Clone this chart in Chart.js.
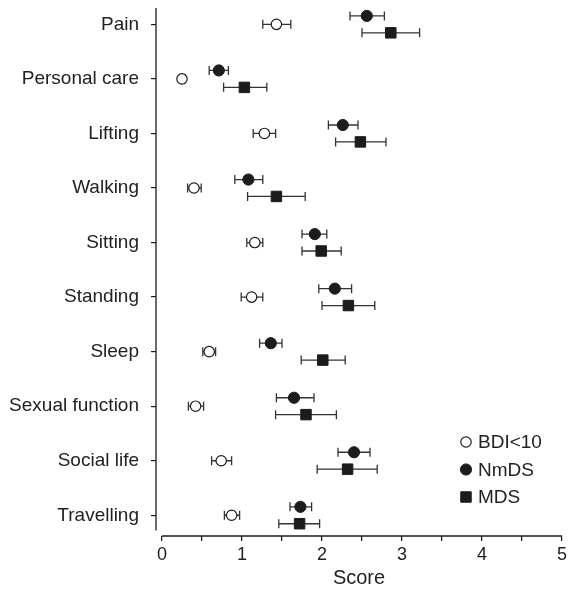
<!DOCTYPE html>
<html>
<head>
<meta charset="utf-8">
<script src="https://cdn.jsdelivr.net/npm/chart.js@4.4.1/dist/chart.umd.min.js"></script>
<style>
  html, body { margin: 0; padding: 0; background: #fff; }
  #wrap { width: 568px; height: 598px; }
</style>
</head>
<body>
<div id="wrap"><canvas id="chart" width="568" height="598"></canvas></div>
<script>
const categories = ['Pain', 'Personal care', 'Lifting', 'Walking', 'Sitting',
                    'Standing', 'Sleep', 'Sexual function', 'Social life', 'Travelling'];

// BDI<10
const bdiMean = [1.43, 0.25, 1.28, 0.40, 1.16, 1.12, 0.59, 0.42, 0.74, 0.87];
const bdiLow  = [1.26, 0.22, 1.14, 0.32, 1.06, 0.99, 0.51, 0.33, 0.62, 0.78];
const bdiHigh = [1.61, 0.29, 1.42, 0.49, 1.26, 1.26, 0.67, 0.52, 0.87, 0.97];

// NmDS
const nmdsMean = [2.56, 0.71, 2.26, 1.08, 1.91, 2.16, 1.36, 1.65, 2.40, 1.73];
const nmdsLow  = [2.35, 0.59, 2.08, 0.91, 1.75, 1.96, 1.22, 1.43, 2.20, 1.60];
const nmdsHigh = [2.78, 0.83, 2.45, 1.26, 2.06, 2.37, 1.50, 1.90, 2.60, 1.87];

// MDS
const mdsMean = [2.86, 1.03, 2.48, 1.43, 1.99, 2.33, 2.01, 1.80, 2.32, 1.72];
const mdsLow  = [2.50, 0.77, 2.17, 1.07, 1.75, 2.00, 1.74, 1.42, 1.94, 1.46];
const mdsHigh = [3.22, 1.31, 2.80, 1.79, 2.24, 2.66, 2.29, 2.18, 2.69, 1.97];

const xTicks = [0, 0.5, 1, 1.5, 2, 2.5, 3, 3.5, 4, 4.5, 5];

const INK = '#1c1c1c';
const FONT = '"Liberation Sans", Arial, sans-serif';

const buildPoints = (mean, low, high, shift) =>
    mean.map((v, i) => ({x: v, y: i + shift, lo: low[i], hi: high[i]}));

// pin the plot box so the axes sit where the original figure has them
const noOverflow = (s) => { s.paddingTop = 0; s.paddingBottom = 0; s.paddingLeft = 0; s.paddingRight = 0; };

const errorBars = {
    id: 'errorBars',
    beforeDatasetsDraw(chart) {
        const {ctx, scales: {x, y}} = chart;
        const cap = 4.5;
        ctx.save();
        ctx.strokeStyle = '#333';
        ctx.lineWidth = 1.3;
        chart.data.datasets.forEach(ds => {
            ds.data.forEach(p => {
                const py = y.getPixelForValue(p.y);
                const x1 = x.getPixelForValue(p.lo);
                const x2 = x.getPixelForValue(p.hi);
                ctx.beginPath();
                ctx.moveTo(x1, py); ctx.lineTo(x2, py);
                ctx.moveTo(x1, py - cap); ctx.lineTo(x1, py + cap);
                ctx.moveTo(x2, py - cap); ctx.lineTo(x2, py + cap);
                ctx.stroke();
            });
        });
        ctx.restore();
    }
};

const axisLines = {
    id: 'axisLines',
    afterDraw(chart) {
        const {ctx, chartArea, scales: {x, y}} = chart;
        ctx.save();
        ctx.strokeStyle = INK;
        ctx.lineWidth = 1.3;
        ctx.beginPath();
        ctx.moveTo(chartArea.left, chartArea.top);
        ctx.lineTo(chartArea.left, y.getPixelForValue(9.28));
        ctx.moveTo(x.getPixelForValue(0), chartArea.bottom);
        ctx.lineTo(x.getPixelForValue(5), chartArea.bottom);
        ctx.stroke();
        ctx.restore();
    }
};

const innerLegend = {
    id: 'innerLegend',
    afterDraw(chart) {
        const {ctx, chartArea} = chart;
        const x0 = chartArea.right - 96;
        const y0 = chartArea.bottom - 94;
        ctx.save();
        ctx.font = '19px ' + FONT;
        ctx.textBaseline = 'middle';
        chart.data.datasets.forEach((ds, i) => {
            const yy = y0 + i * 27.5;
            ctx.fillStyle = ds.backgroundColor;
            ctx.strokeStyle = ds.borderColor;
            ctx.lineWidth = ds.borderWidth;
            Chart.helpers.drawPoint(ctx, {pointStyle: ds.pointStyle, radius: ds.pointRadius, borderWidth: ds.borderWidth}, x0, yy);
            ctx.fillStyle = '#222';
            ctx.fillText(ds.label, x0 + 12, yy + 1);
        });
        ctx.restore();
    }
};

new Chart(document.getElementById('chart'), {
    type: 'scatter',
    data: {
        datasets: [
            {label: 'BDI<10', data: buildPoints(bdiMean, bdiLow, bdiHigh, 0),
             pointStyle: 'circle', pointRadius: 5.2, pointHoverRadius: 5.2,
             backgroundColor: '#fff', borderColor: INK, borderWidth: 1.2},
            {label: 'NmDS', data: buildPoints(nmdsMean, nmdsLow, nmdsHigh, -0.155),
             pointStyle: 'circle', pointRadius: 5.6, pointHoverRadius: 5.6,
             backgroundColor: INK, borderColor: INK, borderWidth: 1},
            {label: 'MDS', data: buildPoints(mdsMean, mdsLow, mdsHigh, 0.155),
             pointStyle: 'rect', pointRadius: 7.4, pointHoverRadius: 7.4,
             backgroundColor: INK, borderColor: INK, borderWidth: 1}
        ]
    },
    options: {
        responsive: false,
        animation: false,
        layout: {autoPadding: false, padding: {top: 8, left: 0, right: 6, bottom: 0}},
        plugins: {legend: {display: false}, tooltip: {enabled: false}},
        scales: {
            x: {
                type: 'linear', min: -0.075, max: 5,
                afterBuildTicks: (s) => { s.ticks = xTicks.map(v => ({value: v})); },
                afterFit: (s) => { s.height = 62; noOverflow(s); },
                ticks: {
                    color: '#222', font: {family: FONT, size: 18}, padding: 3, maxRotation: 0,
                    callback: (v) => Number.isInteger(v) ? String(v) : ''
                },
                grid: {drawOnChartArea: false, drawTicks: true, tickLength: 5, color: INK, lineWidth: 1.2},
                border: {display: false},
                title: {display: true, text: 'Score', color: '#222', font: {family: FONT, size: 20, lineHeight: 0.9}, padding: {top: 0, bottom: 11}}
            },
            y: {
                type: 'linear', min: -0.3, max: 9.38, reverse: true,
                afterBuildTicks: (s) => { s.ticks = categories.map((c, i) => ({value: i})); },
                afterFit: (s) => { s.width = 156; noOverflow(s); },
                ticks: {
                    color: '#222', font: {family: FONT, size: 19}, padding: 12,
                    callback: (v) => categories[v]
                },
                grid: {drawOnChartArea: false, drawTicks: true, tickLength: 5, color: INK, lineWidth: 1.2},
                border: {display: false}
            }
        }
    },
    plugins: [errorBars, axisLines, innerLegend]
});
</script>
</body>
</html>
